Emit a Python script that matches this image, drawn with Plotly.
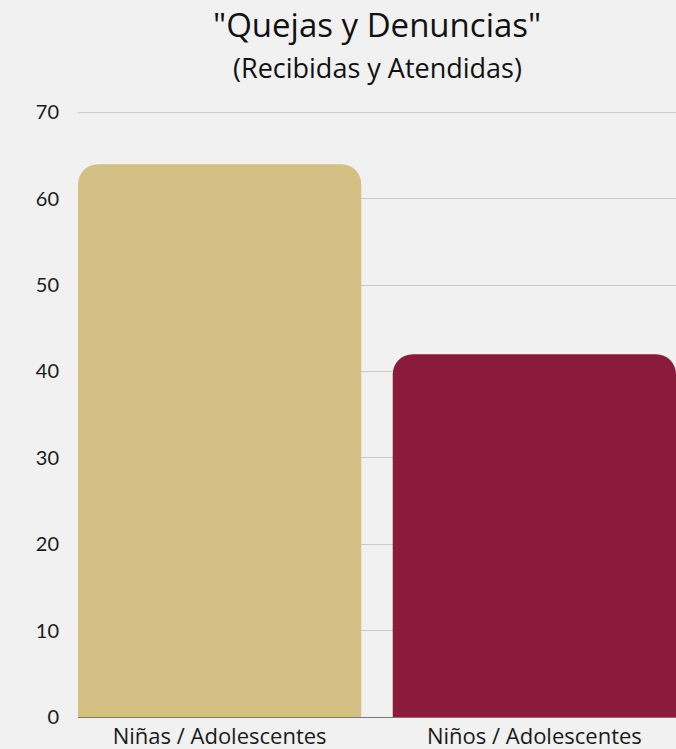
import plotly.graph_objects as go

# Chart data
categories = ["Niñas / Adolescentes", "Niños / Adolescentes"]
values = [64, 42]
bar_colors = ["#D4C085", "#8B1B3D"]
y_ticks = [0, 10, 20, 30, 40, 50, 60, 70]

title_text = '"Quejas y Denuncias"'
subtitle_text = "(Recibidas y Atendidas)"

fig = go.Figure(
    go.Bar(
        x=categories,
        y=values,
        marker=dict(color=bar_colors, line=dict(width=0)),
        width=0.9,
        hoverinfo="x+y",
    )
)

fig.update_layout(
    width=676,
    height=749,
    margin=dict(l=78, r=0, t=108, b=32),
    paper_bgcolor="#F1F1F2",
    plot_bgcolor="rgba(0,0,0,0)",
    barcornerradius=20,
    showlegend=False,
    font=dict(family="Open Sans", color="#1a1a1a"),
    annotations=[
        dict(text=title_text, xref="paper", yref="paper", x=0.5, y=1,
             yshift=84, xanchor="center", yanchor="middle", showarrow=False,
             font=dict(size=33, family="Open Sans", color="#111111")),
        dict(text=subtitle_text, xref="paper", yref="paper", x=0.5, y=1,
             yshift=41, xanchor="center", yanchor="middle", showarrow=False,
             font=dict(size=27, family="Open Sans", color="#111111")),
    ],
)

fig.update_xaxes(
    type="category",
    range=[-0.45, 1.45],
    showgrid=False,
    showline=True,
    linecolor="#7a7a7a",
    linewidth=1,
    ticks="",
    tickfont=dict(size=22, family="Open Sans", color="#1a1a1a"),
    fixedrange=True,
)

fig.update_yaxes(
    range=[0, 70.5],
    tickvals=y_ticks,
    showgrid=True,
    gridcolor="#C9C9CB",
    gridwidth=1,
    zeroline=False,
    showline=False,
    ticks="outside",
    ticklen=14,
    tickcolor="rgba(0,0,0,0)",
    tickfont=dict(size=20, family="Lato", color="#1a1a1a"),
    fixedrange=True,
)

fig.write_html("out.html")
